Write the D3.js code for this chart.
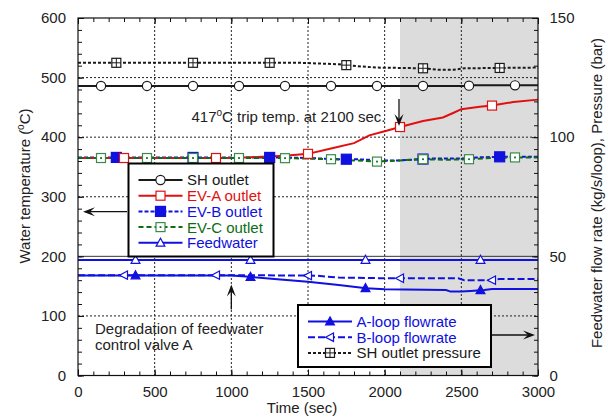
<!DOCTYPE html>
<html>
<head>
<meta charset="utf-8">
<script src="https://cdn.jsdelivr.net/npm/d3@7"></script>
<style>
body { margin: 0; background: #fff; }
svg { font-family: "Liberation Sans", Arial, sans-serif; }
</style>
</head>
<body>
<svg id="chart" width="608" height="420"></svg>
<script>
// values

// left axis, water temperature (degC)
const shT = [0, 2540, 2560, 3000]
const shOutlet = [486, 486, 487, 487]

const evaT = [0, 1000, 1200, 1350, 1500, 1650, 1800, 1900, 2000, 2100, 2250, 2380, 2450, 2500, 2620, 2700, 2840, 3000]
const evaOutlet = [365, 365, 367, 369, 372, 381, 390, 403, 410, 417, 427, 433, 441, 447, 451, 453, 459, 463]

const evbT = [0, 1300, 1500, 1700, 1800, 2000, 2100, 2300, 2500, 2600, 2750, 3000]
const evbOutlet = [366, 366, 365, 363, 363, 361, 361, 364, 364, 366, 367, 367]

const evcT = [0, 1300, 1500, 1650, 1800, 1950, 2100, 2250, 2400, 2550, 2700, 2850, 3000]
const evcOutlet = [365, 365, 364, 363, 361, 359, 361, 363, 362, 363, 365, 366, 366]

const fwT = [0, 3000]
const feedwater = [194, 194]

// right axis, flow rate (kg/s/loop) and pressure (bar)
const aT = [0, 1000, 1120, 1300, 1500, 1700, 1880, 2000, 2400, 2430, 2500, 2560, 2650, 2700, 3000]
const aLoop = [42, 42, 41.4, 40.4, 39.3, 38, 36.6, 36.2, 35.9, 35.2, 35.2, 35.5, 35.9, 36.3, 36.3]

const bT = [0, 1000, 1550, 1700, 2000, 2480, 2520, 2700, 2750, 3000]
const bLoop = [42.1, 42.1, 41.9, 41.1, 40.8, 40.8, 40.0, 40.0, 40.5, 40.5]

const pT = [0, 1450, 1700, 1780, 1950, 2250, 2350, 2450, 2520, 3000]
const shPressure = [131.2, 131.2, 130.6, 130.0, 129.2, 128.9, 128.3, 128.3, 128.9, 129.2]

// where the symbols sit on each curve (sec)
const shMarks = [150, 450, 750, 1050, 1350, 1650, 1950, 2250, 2550, 2850]
const evaMarks = [300, 900, 1500, 2100, 2700]
const evbMarks = [250, 750, 1250, 1750, 2250, 2750]
const evcMarks = [150, 450, 750, 1050, 1350, 1650, 1950, 2250, 2550, 2850]
const fwMarks = [375, 1125, 1875, 2625]
const aMarks = [375, 1125, 1875, 2625]
const bMarks = [300, 900, 1500, 2100, 2700]
const pMarks = [250, 750, 1250, 1750, 2250, 2750]

const xTicks = [0, 500, 1000, 1500, 2000, 2500, 3000]
const yLeftTicks = [0, 100, 200, 300, 400, 500, 600]
const yRightTicks = [0, 50, 100, 150]
const tripStart = 2100

const leftLegend = ["SH outlet", "EV-A outlet", "EV-B outlet", "EV-C outlet", "Feedwater"]
const rightLegend = ["A-loop flowrate", "B-loop flowrate", "SH outlet pressure"]

const RED = "#e01010", BLUE = "#1010e0", GREEN = "#0c6e14", BLACK = "#1a1a1a"

const svg = d3.select("#chart")

const x = d3.scaleLinear().domain([0, 3000]).range([78, 538])
const yL = d3.scaleLinear().domain([0, 600]).range([375.5, 18])
const yR = d3.scaleLinear().domain([0, 150]).range([375.5, 18])

// shaded part after the trip
svg.append("rect")
    .attr("x", x(tripStart)).attr("y", yL(600))
    .attr("width", x(3000) - x(tripStart)).attr("height", yL(0) - yL(600))
    .attr("fill", "#dcdcdc")

// grid
const grid = svg.append("g").attr("stroke", "#222").attr("stroke-width", 1)
grid.selectAll(".gx").data(xTicks.slice(1, -1)).join("line")
    .attr("x1", d => x(d)).attr("x2", d => x(d))
    .attr("y1", yL(600)).attr("y2", yL(0))
    .attr("stroke-dasharray", "2,2")
grid.selectAll(".gy").data(yLeftTicks.slice(1, -1)).join("line")
    .attr("x1", x(0)).attr("x2", x(3000))
    .attr("y1", d => yL(d)).attr("y2", d => yL(d))
    .attr("stroke-dasharray", d => d === 200 ? null : "2,2")
    .attr("stroke-width", d => d === 200 ? 0.9 : 1)

const series = [
    { t: pT, v: shPressure, y: yR, color: BLACK, dash: "3,2", marks: pMarks, sym: "squareCross" },
    { t: shT, v: shOutlet, y: yL, color: BLACK, dash: null, marks: shMarks, sym: "circle" },
    { t: evbT, v: evbOutlet, y: yL, color: BLUE, dash: "4,2", marks: evbMarks, sym: "squareFill" },
    { t: evaT, v: evaOutlet, y: yL, color: RED, dash: null, marks: evaMarks, sym: "square" },
    { t: evcT, v: evcOutlet, y: yL, color: GREEN, dash: "5,3", marks: evcMarks, sym: "squareDot" },
    { t: bT, v: bLoop, y: yR, color: BLUE, dash: "7,3", marks: bMarks, sym: "triLeft" },
    { t: aT, v: aLoop, y: yR, color: BLUE, dash: null, marks: aMarks, sym: "triUpFill" },
    { t: fwT, v: feedwater, y: yL, color: BLUE, dash: null, marks: fwMarks, sym: "triUp" }
]

function symbol(g, type, cx, cy, color) {
    const sw = 1.2
    if (type === "circle") {
        g.append("circle").attr("cx", cx).attr("cy", cy).attr("r", 4.6)
            .attr("fill", "#fff").attr("stroke", color).attr("stroke-width", sw)
    } else if (type.startsWith("square")) {
        const s = type === "squareFill" ? 10 : 9
        g.append("rect").attr("x", cx - s / 2).attr("y", cy - s / 2)
            .attr("width", s).attr("height", s)
            .attr("fill", type === "squareFill" ? color : "#fff")
            .attr("stroke", type === "squareDot" ? "#3a8a4a" : color).attr("stroke-width", sw)
        if (type === "squareDot") {
            g.append("rect").attr("x", cx - 0.9).attr("y", cy - 0.9).attr("width", 1.8).attr("height", 1.8)
                .attr("fill", color)
        }
        if (type === "squareCross") {
            g.append("path").attr("d", `M${cx - 4.5},${cy}H${cx + 4.5}M${cx},${cy - 4.5}V${cy + 4.5}`)
                .attr("stroke", color).attr("stroke-width", 1)
        }
    } else if (type === "triLeft") {
        g.append("path").attr("d", `M${cx - 4.5},${cy}L${cx + 3.5},${cy - 4.2}L${cx + 3.5},${cy + 4.2}Z`)
            .attr("fill", "#fff").attr("stroke", color).attr("stroke-width", sw)
    } else {
        g.append("path").attr("d", `M${cx},${cy - 4.6}L${cx + 4.4},${cy + 3.4}L${cx - 4.4},${cy + 3.4}Z`)
            .attr("fill", type === "triUpFill" ? color : "#fff")
            .attr("stroke", color).attr("stroke-width", sw)
    }
}

const lines = svg.append("g").attr("fill", "none")
series.forEach(s => {
    const line = d3.line().x(d => x(d[0])).y(d => s.y(d[1]))
    lines.append("path")
        .datum(s.t.map((t, i) => [t, s.v[i]]))
        .attr("d", line)
        .attr("stroke", s.color)
        .attr("stroke-width", 2)
        .attr("stroke-dasharray", s.dash)
})

const marks = svg.append("g")
series.forEach(s => {
    const along = d3.scaleLinear().domain(s.t).range(s.v)
    s.marks.forEach(t => symbol(marks, s.sym, x(t), s.y(along(t)), s.color))
})

// legends
function legend(items, styles, left, top, w, h, textColors) {
    const g = svg.append("g")
    g.append("rect").attr("x", left).attr("y", top).attr("width", w).attr("height", h)
        .attr("fill", "#fff").attr("stroke", "#000").attr("stroke-width", 2)
    items.forEach((name, i) => {
        const s = styles[i]
        const cy = top + 16.5 + i * 15.7
        g.append("line").attr("x1", left + 10).attr("x2", left + 54).attr("y1", cy).attr("y2", cy)
            .attr("stroke", s.color).attr("stroke-width", 2).attr("stroke-dasharray", s.dash)
        symbol(g, s.sym, left + 32, cy, s.color)
        g.append("text").attr("x", left + 58.5).attr("y", cy).attr("dy", "0.36em")
            .attr("font-size", 15).attr("fill", textColors[i]).text(name)
    })
}
legend(leftLegend, [series[1], series[3], series[2], series[4], series[7]], 128.5, 163.5, 145, 93,
    [BLACK, RED, BLUE, GREEN, BLUE])
legend(rightLegend, [series[6], series[5], series[0]], 298, 305, 193, 62, [BLUE, BLUE, BLACK])

// arrows
function arrow(x1, y1, x2, y2) {
    const a = Math.atan2(y2 - y1, x2 - x1)
    const L = 12, W = 4.5, ind = 7
    const p = (d, o) => [x2 - d * Math.cos(a) - o * Math.sin(a), y2 - d * Math.sin(a) + o * Math.cos(a)]
    svg.append("line").attr("x1", x1).attr("y1", y1).attr("x2", p(ind, 0)[0]).attr("y2", p(ind, 0)[1])
        .attr("stroke", "#111").attr("stroke-width", 1.3)
    svg.append("path").attr("d", "M" + [[x2, y2], p(L, W), p(ind, 0), p(L, -W)].join("L") + "Z")
        .attr("fill", "#111")
}
const tripTemp = d3.scaleLinear().domain(evaT).range(evaOutlet)(tripStart)
arrow(x(tripStart) - 1, yL(tripTemp) - 28, x(tripStart) - 1, yL(tripTemp) - 1)
arrow(x(1000), yL(0) - 66, x(1000), yL(0) - 91)
arrow(127, 211.7, 83, 211.7)
arrow(492, 335, 535, 335)

const note1 = svg.append("text").attr("x", 191.5).attr("y", 122).attr("font-size", 15).attr("fill", "#222")
note1.append("tspan").text(Math.round(tripTemp))
note1.append("tspan").attr("dy", -6).attr("font-size", 10).text("o")
note1.append("tspan").attr("dy", 6).text("C trip temp. at " + tripStart + " sec.")

svg.append("text").attr("x", 95).attr("y", 333.5).attr("font-size", 15).attr("fill", "#222")
    .text("Degradation of feedwater")
svg.append("text").attr("x", 95).attr("y", 350).attr("font-size", 15).attr("fill", "#222")
    .text("control valve A")

// axes, ticks pointing inwards
function styleAxis(g) {
    g.select(".domain").remove()
    g.attr("font-size", 15).attr("font-family", null)
    g.selectAll("text").attr("fill", "#222")
    g.selectAll("line").attr("stroke", "#111")
}
const fmt = d3.format("d")
svg.append("g").attr("transform", `translate(0,${yL(0)})`)
    .call(d3.axisBottom(x).tickValues(d3.range(0, 3001, 100)).tickSize(-4).tickFormat(""))
    .call(styleAxis)
svg.append("g").attr("transform", `translate(0,${yL(0)})`)
    .call(d3.axisBottom(x).tickValues(xTicks).tickSize(-6).tickPadding(11).tickFormat(fmt))
    .call(styleAxis)
svg.append("g").attr("transform", `translate(0,${yL(600)})`)
    .call(d3.axisTop(x).tickValues(d3.range(0, 3001, 100)).tickSize(-4).tickFormat(""))
    .call(styleAxis)
svg.append("g").attr("transform", `translate(0,${yL(600)})`)
    .call(d3.axisTop(x).tickValues(xTicks).tickSize(-6).tickFormat(""))
    .call(styleAxis)
svg.append("g").attr("transform", `translate(${x(0)},0)`)
    .call(d3.axisLeft(yL).tickValues(d3.range(0, 601, 20)).tickSize(-4).tickFormat(""))
    .call(styleAxis)
svg.append("g").attr("transform", `translate(${x(0)},0)`)
    .call(d3.axisLeft(yL).tickValues(yLeftTicks).tickSize(-6).tickPadding(12).tickFormat(fmt))
    .call(styleAxis)
svg.append("g").attr("transform", `translate(${x(3000)},0)`)
    .call(d3.axisRight(yR).tickValues(d3.range(0, 151, 5)).tickSize(-4).tickFormat(""))
    .call(styleAxis)
svg.append("g").attr("transform", `translate(${x(3000)},0)`)
    .call(d3.axisRight(yR).tickValues(yRightTicks).tickSize(-6).tickPadding(11.5).tickFormat(fmt))
    .call(styleAxis)

svg.append("rect")
    .attr("x", x(0)).attr("y", yL(600))
    .attr("width", x(3000) - x(0)).attr("height", yL(0) - yL(600))
    .attr("fill", "none").attr("stroke", "#111").attr("stroke-width", 1.2)

// axis titles
svg.append("text").attr("x", 302).attr("y", 413).attr("text-anchor", "middle")
    .attr("font-size", 15).attr("fill", "#222").text("Time (sec)")

const yTitle = svg.append("text").attr("transform", "translate(30,186) rotate(-90)")
    .attr("text-anchor", "middle").attr("font-size", 15).attr("fill", "#222")
yTitle.append("tspan").text("Water temperature (")
yTitle.append("tspan").attr("dy", -6).attr("font-size", 10).text("o")
yTitle.append("tspan").attr("dy", 6).text("C)")

svg.append("text").attr("transform", "translate(602,193) rotate(-90)")
    .attr("text-anchor", "middle").attr("font-size", 15).attr("fill", "#222")
    .text("Feedwater flow rate (kg/s/loop), Pressure (bar)")
</script>
</body>
</html>
